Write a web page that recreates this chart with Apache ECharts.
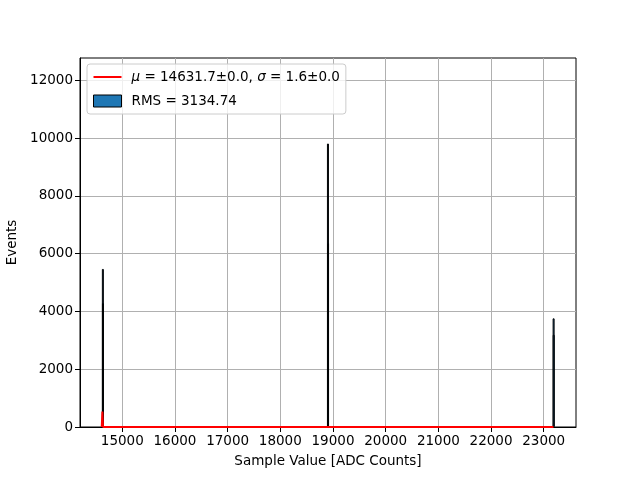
<!DOCTYPE html>
<html>
<head>
<meta charset="utf-8">
<script src="https://cdn.jsdelivr.net/npm/echarts@6/dist/echarts.min.js"></script>
<style>html,body{margin:0;padding:0;background:#fff}#c{width:640px;height:480px}</style>
</head>
<body>
<div id="c"></div>
<script>
// Histogram bins (ADC value, events)
const histBins = [14631, 14633, 18904, 18906, 23188, 23190];
const histCounts = [5470, 4290, 9810, 6370, 3760, 3190];
// Gaussian fit curve samples (ADC value, events)
const fitX = [14610, 14622, 14634, 23185];
const fitY = [0, 536, 0, 0];
const xTicks = [15000, 16000, 17000, 18000, 19000, 20000, 21000, 22000, 23000];
const yTicks = [0, 2000, 4000, 6000, 8000, 10000, 12000];
const fitLabel = '{i|μ} = 14631.7±0.0, {i|σ} = 1.6±0.0';
const rmsLabel = 'RMS = 3134.74';

const FONT = 'DejaVu Sans';
const plain = v => String(v);
const chart = echarts.init(document.getElementById('c'), null, {renderer: 'canvas'});
chart.setOption({
  animation: false,
  backgroundColor: '#fff',
  textStyle: {fontFamily: FONT},
  grid: {left: 80, right: 64, top: 58, bottom: 53, containLabel: false, outerBoundsMode: 'none',
    show: true, borderColor: '#000', borderWidth: 1, backgroundColor: 'transparent'},
  legend: {
    orient: 'vertical', left: 87, top: 64,
    padding: [6, 6, 6, 6], itemGap: 10, itemWidth: 28, itemHeight: 12,
    backgroundColor: 'rgba(255,255,255,0.8)', borderColor: '#cccccc', borderWidth: 1, borderRadius: 3,
    textStyle: {fontFamily: FONT, fontSize: 13.5, color: '#000', padding: [0, 0, 0, 5],
      rich: {i: {fontFamily: FONT, fontStyle: 'italic', fontSize: 13.5, color: '#000'}}},
    formatter: function (n) { return n === 'fit' ? fitLabel : rmsLabel; },
    data: [
      {name: 'fit', icon: 'path://M0,0 L28,0 L28,2 L0,2 Z', itemStyle: {color: '#ff0000'}},
      {name: 'rms', icon: 'rect', itemStyle: {color: '#1f77b4', borderColor: '#000', borderWidth: 1}}
    ]
  },
  xAxis: {
    type: 'value', min: 14197, max: 23613, interval: 1000,
    name: 'Sample Value [ADC Counts]', nameLocation: 'middle', nameGap: 27,
    nameTextStyle: {fontFamily: FONT, fontSize: 13.5, color: '#000'},
    axisLine: {show: true, onZero: false, lineStyle: {color: '#000', width: 1}},
    axisTick: {show: true, length: 5, lineStyle: {color: '#000'}, customValues: xTicks},
    axisLabel: {fontFamily: FONT, fontSize: 13.5, color: '#000', margin: 7, customValues: xTicks, formatter: plain},
    splitLine: {show: true, lineStyle: {color: '#b0b0b0', width: 1}}
  },
  yAxis: {
    type: 'value', min: 0, max: 12770, interval: 2000,
    name: 'Events', nameLocation: 'middle', nameGap: 55,
    nameTextStyle: {fontFamily: FONT, fontSize: 13.5, color: '#000'},
    axisLine: {show: true, lineStyle: {color: '#000', width: 1}},
    axisTick: {show: true, length: 5, lineStyle: {color: '#000'}, customValues: yTicks},
    axisLabel: {fontFamily: FONT, fontSize: 13.5, color: '#000', margin: 7, customValues: yTicks, formatter: plain},
    splitLine: {show: true, lineStyle: {color: '#b0b0b0', width: 1}}
  },
  series: [
    {
      name: 'rms', type: 'bar', barWidth: 2, z: 2,
      itemStyle: {color: '#1f77b4', borderColor: '#000', borderWidth: 1},
      data: histBins.map((b, i) => [b, histCounts[i]])
    },
    {
      name: 'fit', type: 'line', symbol: 'none', z: 3,
      lineStyle: {color: '#ff0000', width: 2}, itemStyle: {color: '#ff0000'},
      data: fitX.map((x, i) => [x, fitY[i]])
    }
  ]
});
</script>
</body>
</html>
